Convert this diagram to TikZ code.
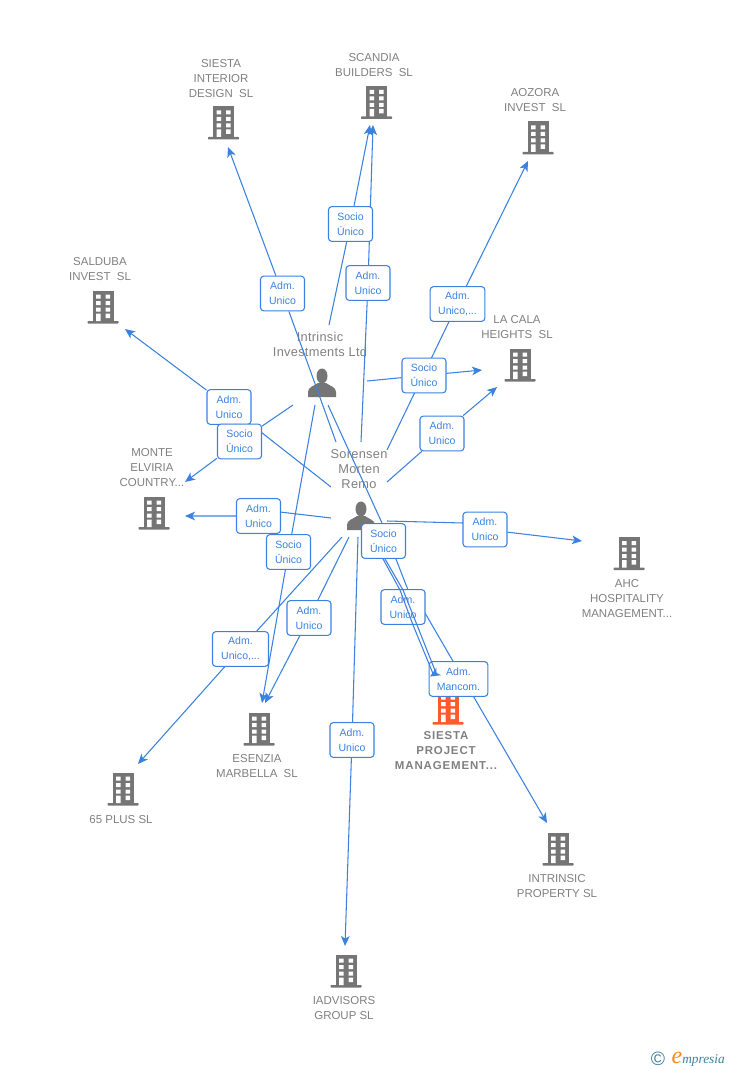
\documentclass[tikz,border=0pt]{standalone}
\usepackage{fontspec}
\setmainfont{Liberation Sans}
\newfontfamily\logofont{Liberation Serif}
\usetikzlibrary{arrows.meta}
\pgfdeclarelayer{back}\pgfdeclarelayer{edges}\pgfdeclarelayer{top}
\pgfsetlayers{back,edges,main,top}
\definecolor{linkblue}{HTML}{3B82E0}
\definecolor{txtgrey}{HTML}{808080}
\definecolor{icongrey}{HTML}{757575}
\definecolor{hotorange}{HTML}{FF5A2B}
\definecolor{logoteal}{HTML}{3F7F9F}
\definecolor{logoorange}{HTML}{F58A1F}
\newcommand{\dsp}{\hspace{0.55em}}
\tikzset{
  edgeline/.style={draw=linkblue,line width=0.8pt},
  arrowline/.style={edgeline,-{Stealth[length=7.5pt,width=6.5pt,inset=2pt]}},
  relbox/.style={draw=linkblue,line width=0.8pt,rounded corners=2.4pt,fill=white,text=linkblue,
    minimum width=33pt,minimum height=26pt,inner sep=0pt,align=center,
    execute at begin node={\rule{0pt}{7.4pt}},
    font=\fontsize{7.9}{11.25}\selectfont},
  namelabel/.style={text=txtgrey,align=center,inner sep=0pt,yshift=-0.75pt,font=\fontsize{8.6}{11.25}\selectfont},
  boldlabel/.style={namelabel,font=\fontsize{8.6}{11.25}\selectfont\bfseries\addfontfeature{LetterSpace=7.5}},
  personlabel/.style={namelabel,yshift=0pt,font=\fontsize{9.6}{11.25}\selectfont\addfontfeature{LetterSpace=2.3}},
  bldg/.style={minimum width=23.5pt,minimum height=25pt,inner sep=0pt,path picture={
    \begin{scope}[shift={(path picture bounding box.center)},x=0.75pt,y=-0.75pt]
      \fill[#1] (-10.5,-16.5) rectangle (10.5,14.5);
      \fill[#1,rounded corners=0.5pt] (-15.5,14) rectangle (15.5,16.5);
      \fill[white] (-7,-12.5) rectangle (-2.5,-8.5) (2.5,-12.5) rectangle (7,-8.5)
        (-7,-6) rectangle (-2.5,-2) (2.5,-6) rectangle (7,-2)
        (-7,0.5) rectangle (-2.5,4.5) (2.5,0.5) rectangle (7,4.5)
        (-7,6.5) rectangle (-2.5,14) (2.5,6.5) rectangle (7,11);
    \end{scope}}},
  personicon/.style={minimum width=22pt,minimum height=22pt,inner sep=0pt,path picture={
    \begin{scope}[shift={(path picture bounding box.center)},x=0.75pt,y=-0.75pt]
      \fill[icongrey] (0,-7) ellipse (5.5 and 7.5);
      \fill[icongrey] (-14,14) -- (-14,9) .. controls (-14,4) and (-8,3) .. (-4,0)
        -- (4,0) .. controls (8,3) and (14,4) .. (14,9) -- (14,14) -- cycle;
    \end{scope}}},
}
\begin{document}
\begin{tikzpicture}[x=0.75pt,y=-0.75pt]
\useasboundingbox (0,0) rectangle (728,1070);
% ---- persons and companies
\begin{pgfonlayer}{back}
\node[personicon] (intrinsic) at (322,383) {};
\node[personlabel] (intrinsicname) at (320,343.5) {Intrinsic\\Investments Ltd};
\node[personicon] (sorensen) at (361,516) {};
\node[personlabel] (sorensenname) at (359,468.5) {Sorensen\\Morten\\Remo};
\node[bldg=icongrey] (interior) at (223.5,123) {};
\node[namelabel] (interiorname) at (221,78) {SIESTA\\INTERIOR\\DESIGN\dsp SL};
\node[bldg=icongrey] (scandia) at (376.5,102.5) {};
\node[namelabel] (scandianame) at (374,64.5) {SCANDIA\\BUILDERS\dsp SL};
\node[bldg=icongrey] (aozora) at (538,138) {};
\node[namelabel] (aozoraname) at (535,99.5) {AOZORA\\INVEST\dsp SL};
\node[bldg=icongrey] (salduba) at (103,307) {};
\node[namelabel] (saldubaname) at (100,268.5) {SALDUBA\\INVEST\dsp SL};
\node[bldg=icongrey] (lacala) at (520,365) {};
\node[namelabel] (lacalaname) at (517,326.5) {LA CALA\\HEIGHTS\dsp SL};
\node[bldg=icongrey] (monte) at (154,513) {};
\node[namelabel] (montename) at (152,467) {MONTE\\ELVIRIA\\COUNTRY...};
\node[bldg=icongrey] (ahc) at (629,553.5) {};
\node[namelabel] (ahcname) at (627,598) {AHC\\HOSPITALITY\\MANAGEMENT...};
\node[bldg=icongrey] (esenzia) at (259,729) {};
\node[namelabel] (esenzianame) at (257,765.5) {ESENZIA\\MARBELLA\dsp SL};
\node[bldg=icongrey] (plus) at (123,789) {};
\node[namelabel] (plusname) at (121,819) {65 PLUS SL};
\node[bldg=hotorange] (project) at (448,708) {};
\node[boldlabel] (projectname) at (446,750) {SIESTA\\PROJECT\\MANAGEMENT...};
\node[bldg=icongrey] (property) at (558,849) {};
\node[namelabel] (propertyname) at (557,885.5) {INTRINSIC\\PROPERTY SL};
\node[bldg=icongrey] (iadvisors) at (346,971) {};
\node[namelabel] (iadvisorsname) at (344,1007.5) {IADVISORS\\GROUP SL};
\end{pgfonlayer}
% ---- relation boxes
\node[relbox] (b1) at (350.5,224) {Socio\\Único};
\node[relbox] (b2) at (368,283) {Adm.\\Unico};
\node[relbox] (b3) at (282.5,293.5) {Adm.\\Unico};
\node[relbox,minimum width=41pt] (b4) at (457.5,304) {Adm.\\Unico,...};
\node[relbox] (b5) at (424,375.5) {Socio\\Único};
\node[relbox] (b6) at (229,407) {Adm.\\Unico};
\node[relbox] (b7) at (239.5,441.5) {Socio\\Único};
\node[relbox] (b8) at (442,433.5) {Adm.\\Unico};
\node[relbox] (b9) at (258.5,516) {Adm.\\Unico};
\node[relbox] (b10) at (288.5,552) {Socio\\Único};
\node[relbox] (b11) at (383.5,541) {Socio\\Único};
\node[relbox] (b12) at (485,529.5) {Adm.\\Unico};
\node[relbox] (b13) at (403,607) {Adm.\\Unico};
\node[relbox] (b14) at (309,618) {Adm.\\Unico};
\node[relbox,minimum width=42pt] (b15) at (240.5,649) {Adm.\\Unico,...};
\node[relbox,minimum width=44pt] (b16) at (458.5,679) {Adm.\\Mancom.};
\node[relbox] (b17) at (352,740) {Adm.\\Unico};
% ---- free ends
\coordinate (s1) at (329,325); \coordinate (t1) at (370,125);
\coordinate (s2) at (361,442); \coordinate (t2) at (373,125);
\coordinate (s3) at (336,442); \coordinate (t3) at (228,147);
\coordinate (s4) at (387,450); \coordinate (t4) at (528,161);
\coordinate (s5) at (367,381); \coordinate (t5) at (482,370);
\coordinate (s6) at (331,487); \coordinate (t6) at (125,329);
\coordinate (s7) at (293,405); \coordinate (t7) at (185,482);
\coordinate (s8) at (387,482); \coordinate (t8) at (497,387);
\coordinate (s9) at (331,518); \coordinate (v9) at (280,512); \coordinate (t9) at (185,516);
\coordinate (s10) at (315,405); \coordinate (t10) at (262,703);
\coordinate (s12) at (387,521); \coordinate (v12) at (463,523); \coordinate (t12) at (582,541);
\coordinate (s14) at (349,537); \coordinate (t14) at (265,703);
\coordinate (s15) at (342,537); \coordinate (t15) at (138,764);
\coordinate (s17) at (358,537); \coordinate (t17) at (345,946);
% long line to INTRINSIC PROPERTY
\coordinate (s18) at (328,405); \coordinate (v18a) at (382,523); \coordinate (v18b) at (408,590);
\coordinate (v18c) at (425,613); \coordinate (t18) at (547,823);
% two lines that end at SIESTA PROJECT, above the boxes
\coordinate (v19a) at (400,590); \coordinate (v19b) at (413,625); \coordinate (t19) at (434,676);
\coordinate (v20a) at (403,590); \coordinate (v20b) at (417,625); \coordinate (v20c) at (436,673); \coordinate (t20) at (430,676.5);
% ---- connectors
\begin{pgfonlayer}{edges}
\draw[arrowline] (s1) -- (b1) -- (t1);
\draw[arrowline] (s2) -- (b2) -- (t2);
\draw[arrowline] (s3) -- (b3) -- (t3);
\draw[arrowline] (s4) -- (b4) -- (t4);
\draw[arrowline] (s5) -- (b5) -- (t5);
\draw[arrowline] (s6) -- (b6) -- (t6);
\draw[arrowline] (s7) -- (b7) -- (t7);
\draw[arrowline] (s8) -- (b8) -- (t8);
\draw[arrowline] (s9) -- (v9) -- (b9) -- (t9);
\draw[arrowline] (s10) -- (b10) -- (t10);
\draw[arrowline] (s12) -- (v12) -- (b12) -- (t12);
\draw[arrowline] (s14) -- (b14) -- (t14);
\draw[arrowline] (s15) -- (b15) -- (t15);
\draw[arrowline] (s17) -- (b17) -- (t17);
\draw[arrowline] (s18) -- (v18a) -- (v18b) -- (v18c) -- (t18);
\end{pgfonlayer}
\begin{pgfonlayer}{top}
\draw[edgeline] (b11.south) ++(-0.5,0) coordinate (s19) -- (v19a) -- (v19b) -- (t19);
\draw[arrowline] (b11.south) ++(1.5,0) coordinate (s20) -- (v20a) -- (v20b) -- (v20c) -- (t20);
\end{pgfonlayer}
% ---- logo
\node[text=logoteal,inner sep=0pt,font=\fontsize{14.5}{14.5}\selectfont] (logoc) at (658,1059) {©};
\node[text=logoorange,inner sep=0pt,font=\logofont\itshape\fontsize{18}{18}\selectfont] (logoe) at (677,1058) {e};
\node[text=logoteal,inner sep=0pt,anchor=west,font=\logofont\itshape\fontsize{10}{10}\selectfont] (logot) at (682,1060) {mpresia};
\end{tikzpicture}
\end{document}
